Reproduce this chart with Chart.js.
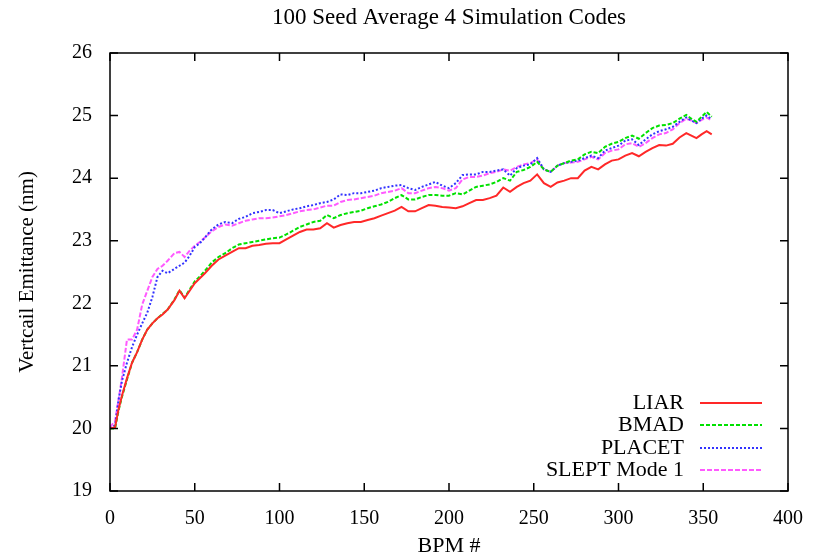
<!DOCTYPE html>
<html>
<head>
<meta charset="utf-8">
<script src="https://cdn.jsdelivr.net/npm/chart.js@4/dist/chart.umd.min.js"></script>
<style>
  html, body { margin: 0; padding: 0; background: #fff; }
  #wrap { width: 824px; height: 557px; }
</style>
</head>
<body>
<div id="wrap"><canvas id="emitChart" width="824" height="557"></canvas></div>
<script>
// BPM positions
const bpm = [0,3,5,7,10,13,16,19,22,25,28,31,34,38,41,44,47,50,53,56,60,64,68,72,76,80,84,88,92,96,
  100,104,108,112,116,120,124,128,132,136,140,144,148,152,156,160,164,168,172,176,180,184,188,192,196,
  200,204,208,212,216,220,224,228,232,236,240,244,248,252,256,260,264,268,272,276,280,284,288,292,296,
  300,304,308,312,316,320,324,328,332,336,340,343,346,349,352,355];

const liar = [20.0,20.02,20.3,20.52,20.8,21.05,21.22,21.42,21.58,21.68,21.76,21.82,21.9,22.05,22.2,22.08,22.2,22.32,22.4,22.48,
  22.6,22.7,22.76,22.82,22.88,22.88,22.92,22.93,22.95,22.96,
  22.96,23.02,23.08,23.14,23.18,23.18,23.2,23.28,23.21,23.25,23.28,23.3,23.3,23.33,23.36,23.4,23.44,23.48,23.54,23.47,
  23.47,23.52,23.57,23.56,23.54,23.53,23.52,23.55,23.6,23.65,23.65,23.68,23.72,23.85,23.78,23.86,23.92,23.96,24.06,23.92,
  23.86,23.93,23.96,24.0,24.0,24.12,24.18,24.14,24.22,24.28,24.3,24.36,24.4,24.35,24.42,24.48,24.53,24.52,24.55,24.65,
  24.72,24.68,24.64,24.7,24.75,24.7];

const bmad = [20.0,20.0,20.28,20.5,20.78,21.05,21.22,21.42,21.58,21.68,21.76,21.83,21.9,22.06,22.21,22.09,22.22,22.35,22.43,22.52,
  22.65,22.74,22.8,22.88,22.94,22.96,22.98,23.0,23.02,23.04,
  23.05,23.1,23.16,23.22,23.26,23.3,23.32,23.41,23.36,23.41,23.44,23.46,23.48,23.52,23.55,23.58,23.62,23.68,23.73,23.66,
  23.66,23.7,23.73,23.73,23.72,23.72,23.76,23.74,23.8,23.86,23.88,23.9,23.94,24.0,23.96,24.1,24.13,24.18,24.26,24.14,
  24.1,24.2,24.24,24.28,24.3,24.38,24.42,24.4,24.5,24.55,24.58,24.64,24.68,24.63,24.72,24.8,24.84,24.85,24.88,24.95,
  25.01,24.95,24.9,24.98,25.06,24.98];

const placet = [20.0,20.05,20.45,20.75,21.05,21.3,21.5,21.68,21.85,22.1,22.42,22.52,22.48,22.55,22.6,22.65,22.76,22.9,22.96,23.05,
  23.18,23.26,23.3,23.28,23.35,23.38,23.44,23.46,23.49,23.49,
  23.44,23.47,23.5,23.52,23.55,23.57,23.6,23.62,23.66,23.74,23.73,23.76,23.76,23.78,23.8,23.84,23.86,23.88,23.89,23.84,
  23.81,23.86,23.9,23.94,23.88,23.84,23.92,24.05,24.06,24.06,24.1,24.1,24.12,24.14,24.04,24.16,24.2,24.22,24.32,24.14,
  24.1,24.2,24.24,24.26,24.28,24.32,24.36,24.32,24.44,24.48,24.52,24.6,24.62,24.53,24.62,24.7,24.75,24.78,24.82,24.9,
  24.97,24.92,24.88,24.95,25.0,24.94];

const slept = [20.02,20.12,20.45,20.8,21.42,21.42,21.58,21.98,22.2,22.42,22.55,22.6,22.68,22.8,22.82,22.74,22.84,22.92,22.98,23.05,
  23.15,23.22,23.26,23.24,23.28,23.32,23.34,23.36,23.36,23.37,
  23.39,23.41,23.44,23.47,23.49,23.5,23.53,23.56,23.56,23.62,23.65,23.66,23.68,23.7,23.72,23.76,23.78,23.8,23.84,23.76,
  23.76,23.8,23.84,23.86,23.84,23.8,23.84,23.98,24.02,24.02,24.04,24.08,24.1,24.14,24.12,24.18,24.22,24.24,24.3,24.14,
  24.1,24.2,24.24,24.25,24.26,24.3,24.34,24.3,24.4,24.44,24.46,24.54,24.56,24.5,24.56,24.64,24.7,24.72,24.78,24.88,
  24.95,24.92,24.88,24.93,24.97,24.92];

const seriesNames = ['LIAR', 'BMAD', 'PLACET', 'SLEPT Mode 1'];
const chartTitle = '100 Seed Average 4 Simulation Codes';
const xTicks = [0, 50, 100, 150, 200, 250, 300, 350, 400];
const yTicks = [19, 20, 21, 22, 23, 24, 25, 26];

const serif = "'Liberation Serif', 'Times New Roman', serif";

function toPoints(vals) {
    return bpm.map((b, i) => ({ x: b, y: vals[i] }));
}

// caja completa con ticks hacia dentro (estilo gnuplot), título y leyenda
const boxPlugin = {
    id: 'gnuBox',
    afterDraw(chart) {
        const { ctx, chartArea: a, scales } = chart;
        const len = 8;
        ctx.save();
        ctx.strokeStyle = '#000';
        ctx.lineWidth = 1.5;
        ctx.strokeRect(a.left, a.top, a.right - a.left, a.bottom - a.top);
        ctx.beginPath();
        xTicks.forEach(v => {
            const px = scales.x.getPixelForValue(v);
            ctx.moveTo(px, a.bottom); ctx.lineTo(px, a.bottom - len);
            ctx.moveTo(px, a.top); ctx.lineTo(px, a.top + len);
        });
        yTicks.forEach(v => {
            const py = scales.y.getPixelForValue(v);
            ctx.moveTo(a.left, py); ctx.lineTo(a.left + len, py);
            ctx.moveTo(a.right, py); ctx.lineTo(a.right - len, py);
        });
        ctx.stroke();

        // título centrado sobre el área del gráfico
        ctx.fillStyle = '#000';
        ctx.font = '23px ' + serif;
        ctx.textAlign = 'center';
        ctx.textBaseline = 'middle';
        ctx.fillText(chartTitle, (a.left + a.right) / 2, 18);

        // leyenda abajo a la derecha
        const textRight = 684, lineX0 = 700, lineX1 = 762;
        const rowY = [403, 425, 448, 470];
        ctx.font = '22px ' + serif;
        ctx.textAlign = 'right';
        chart.data.datasets.forEach((ds, i) => {
            ctx.fillStyle = '#000';
            ctx.fillText(ds.label, textRight, rowY[i]);
            ctx.strokeStyle = ds.borderColor;
            ctx.lineWidth = ds.borderWidth;
            ctx.setLineDash(ds.borderDash || []);
            ctx.beginPath();
            ctx.moveTo(lineX0, rowY[i]);
            ctx.lineTo(lineX1, rowY[i]);
            ctx.stroke();
        });
        ctx.restore();
    }
};

function renderChart() {
    const ctx = document.getElementById('emitChart').getContext('2d');
    new Chart(ctx, {
        type: 'line',
        data: {
            datasets: [
                { label: seriesNames[0], data: toPoints(liar), borderColor: 'rgb(255, 40, 40)', borderWidth: 2 },
                { label: seriesNames[1], data: toPoints(bmad), borderColor: 'rgb(0, 225, 0)', borderWidth: 2, borderDash: [4, 2] },
                { label: seriesNames[2], data: toPoints(placet), borderColor: 'rgb(50, 50, 255)', borderWidth: 2, borderDash: [2, 2] },
                { label: seriesNames[3], data: toPoints(slept), borderColor: 'rgb(255, 90, 255)', borderWidth: 2, borderDash: [5, 2] }
            ]
        },
        options: {
            responsive: false,
            animation: false,
            elements: { point: { radius: 0 }, line: { tension: 0, fill: false } },
            layout: { padding: { left: 0, right: 36, top: 53, bottom: 0 } },
            plugins: {
                legend: { display: false },
                tooltip: { enabled: false },
                title: { display: false }
            },
            scales: {
                x: {
                    type: 'linear',
                    min: 0, max: 400,
                    afterFit(scale) { scale.height = 66; },
                    afterBuildTicks(scale) { scale.ticks = xTicks.map(v => ({ value: v })); },
                    grid: { display: false, drawTicks: false },
                    border: { display: false },
                    ticks: { color: '#000', padding: 16, maxRotation: 0, font: { family: serif, size: 20 } },
                    title: {
                        display: true, text: 'BPM #', color: '#000',
                        font: { family: serif, size: 22 },
                        padding: { top: 0, bottom: -2 }
                    }
                },
                y: {
                    min: 19, max: 26,
                    afterFit(scale) { scale.width = 110; },
                    afterBuildTicks(scale) { scale.ticks = yTicks.map(v => ({ value: v })); },
                    grid: { display: false, drawTicks: false },
                    border: { display: false },
                    ticks: { color: '#000', padding: 18, font: { family: serif, size: 20 } },
                    title: {
                        display: true, text: 'Vertcail Emittance (nm)', color: '#000',
                        font: { family: serif, size: 21 },
                        padding: { top: 15, bottom: 0 }
                    }
                }
            }
        },
        plugins: [boxPlugin]
    });
}

document.addEventListener('DOMContentLoaded', () => {
    renderChart();
});
</script>
</body>
</html>
